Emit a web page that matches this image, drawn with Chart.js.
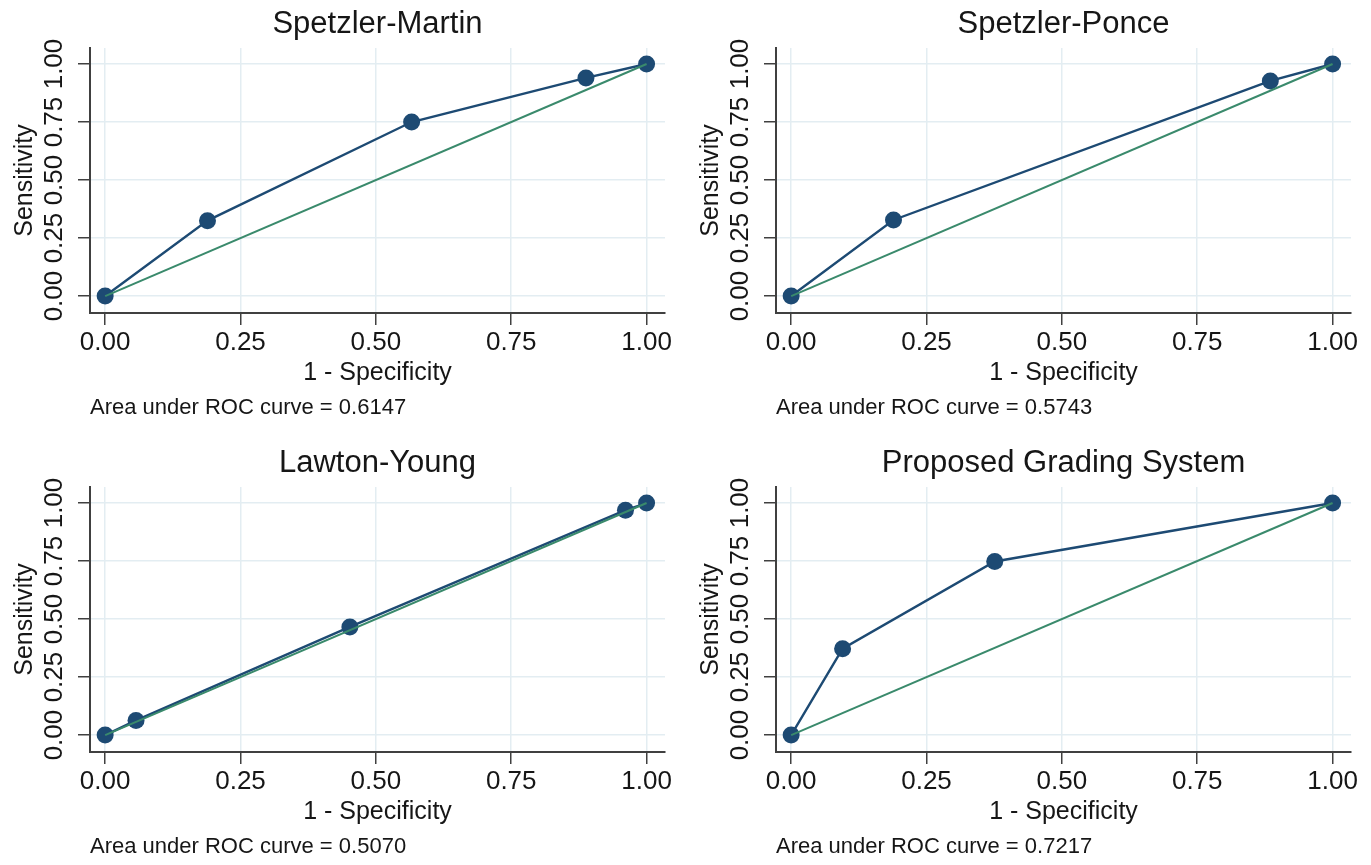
<!DOCTYPE html>
<html>
<head>
<meta charset="utf-8">
<script src="https://cdn.jsdelivr.net/npm/chart.js@4.4.1/dist/chart.umd.min.js"></script>
<style>
  html, body { margin: 0; padding: 0; background: #fff; }
  body { width: 1371px; height: 865px; position: relative; overflow: hidden; }
  .panel { position: absolute; width: 685px; height: 426px; }
  .panel canvas { display: block; }
</style>
</head>
<body>
<div class="panel" style="left:0;top:0"><canvas id="c1" width="685" height="426"></canvas></div>
<div class="panel" style="left:686px;top:0"><canvas id="c2" width="685" height="426"></canvas></div>
<div class="panel" style="left:0;top:439px"><canvas id="c3" width="685" height="426"></canvas></div>
<div class="panel" style="left:686px;top:439px"><canvas id="c4" width="685" height="426"></canvas></div>
<script>
// ROC points (1 - specificity, sensitivity)
const tickValues = [0, 0.25, 0.5, 0.75, 1];

const smFpr = [0, 0.189, 0.566, 0.888, 1];
const smTpr = [0, 0.325, 0.75, 0.94, 1];

const spFpr = [0, 0.189, 0.885, 1];
const spTpr = [0, 0.328, 0.927, 1];

const lyFpr = [0, 0.057, 0.452, 0.961, 1];
const lyTpr = [0, 0.063, 0.466, 0.969, 1];

const pgFpr = [0, 0.095, 0.376, 1];
const pgTpr = [0, 0.372, 0.748, 1];

// reference diagonal
const refX = [0, 1];
const refY = [0, 1];

const panelTitles = ['Spetzler-Martin', 'Spetzler-Ponce', 'Lawton-Young', 'Proposed Grading System'];
const aucValues = ['0.6147', '0.5743', '0.5070', '0.7217'];

const FONT = "'Liberation Sans', Arial, Helvetica, sans-serif";
const TEXT = '#161616';
const AXIS = '#404040';
const GRID = '#e3edf2';
const NAVY = '#1d4a73';
const GREEN = '#3a8a6c';

function toPoints(xs, ys) {
    return xs.map((x, i) => ({ x: x, y: ys[i] }));
}

function fixTicks(scale) {
    scale.ticks = tickValues.map(v => ({ value: v }));
}

function makePanel(id, title, fpr, tpr, auc) {
    new Chart(document.getElementById(id), {
        type: 'scatter',
        data: {
            datasets: [
                {
                    // diagonal drawn on top
                    data: toPoints(refX, refY),
                    showLine: true,
                    borderColor: GREEN,
                    borderWidth: 2,
                    pointRadius: 0,
                    tension: 0
                },
                {
                    data: toPoints(fpr, tpr),
                    showLine: true,
                    borderColor: NAVY,
                    borderWidth: 2.4,
                    pointRadius: 8.5,
                    pointBackgroundColor: NAVY,
                    pointBorderWidth: 0,
                    tension: 0
                }
            ]
        },
        options: {
            responsive: false,
            animation: false,
            layout: { padding: { left: 0, right: 20, top: 0, bottom: 5 } },
            plugins: {
                legend: { display: false },
                tooltip: { enabled: false },
                title: { display: false }
            },
            scales: {
                x: {
                    type: 'linear',
                    position: 'bottom',
                    weight: 0,
                    min: -0.028,
                    max: 1.034,
                    afterBuildTicks: fixTicks,
                    afterFit: s => { s.height = 75; },
                    grid: { color: GRID, lineWidth: 1.5, drawTicks: true, tickLength: 12, tickColor: AXIS, tickWidth: 1.5 },
                    border: { display: true, color: AXIS, width: 2 },
                    ticks: {
                        padding: 2,
                        color: TEXT,
                        font: { family: FONT, size: 26 },
                        maxRotation: 0,
                        autoSkip: false,
                        callback: v => Number(v).toFixed(2)
                    },
                    title: {
                        display: true,
                        text: '1 - Specificity',
                        color: TEXT,
                        font: { family: FONT, size: 25 },
                        padding: { top: 0, bottom: 0 }
                    }
                },
                note: {
                    type: 'linear',
                    position: 'bottom',
                    weight: 1,
                    afterFit: s => { s.height = 33; },
                    grid: { display: false },
                    border: { display: false },
                    ticks: { display: false },
                    title: {
                        display: true,
                        text: 'Area under ROC curve = ' + auc,
                        align: 'start',
                        color: TEXT,
                        font: { family: FONT, size: 22 },
                        padding: { top: 0, bottom: 0 }
                    }
                },
                head: {
                    type: 'linear',
                    position: 'top',
                    afterFit: s => { s.height = 48; },
                    grid: { display: false },
                    border: { display: false },
                    ticks: { display: false },
                    title: {
                        display: true,
                        text: title,
                        color: TEXT,
                        font: { family: FONT, size: 31 },
                        padding: { top: 6, bottom: 0 }
                    }
                },
                y: {
                    type: 'linear',
                    position: 'left',
                    min: -0.073,
                    max: 1.069,
                    afterBuildTicks: fixTicks,
                    afterFit: s => { s.width = 90; },
                    grid: { color: GRID, lineWidth: 1.5, drawTicks: true, tickLength: 12, tickColor: AXIS, tickWidth: 1.5 },
                    border: { display: true, color: AXIS, width: 2 },
                    ticks: {
                        padding: -2,
                        color: TEXT,
                        font: { family: FONT, size: 26 },
                        minRotation: 90,
                        maxRotation: 90,
                        crossAlign: 'center',
                        autoSkip: false,
                        callback: v => Number(v).toFixed(2)
                    },
                    title: {
                        display: true,
                        text: 'Sensitivity',
                        color: TEXT,
                        font: { family: FONT, size: 25 },
                        padding: { top: 10, bottom: 0 }
                    }
                }
            }
        }
    });
}

makePanel('c1', panelTitles[0], smFpr, smTpr, aucValues[0]);
makePanel('c2', panelTitles[1], spFpr, spTpr, aucValues[1]);
makePanel('c3', panelTitles[2], lyFpr, lyTpr, aucValues[2]);
makePanel('c4', panelTitles[3], pgFpr, pgTpr, aucValues[3]);
</script>
</body>
</html>
